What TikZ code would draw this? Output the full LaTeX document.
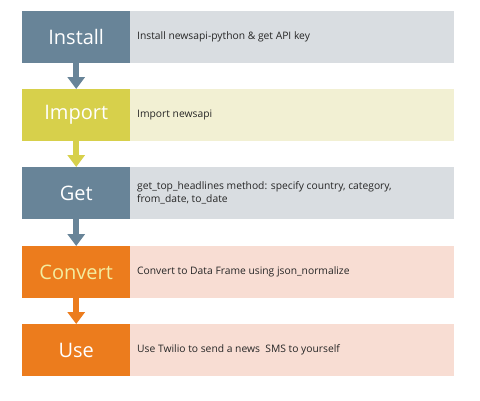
\documentclass[tikz,border=0pt]{standalone}
\usepackage{fontspec}
\setmainfont{Open Sans}
\usetikzlibrary{arrows.meta}
\definecolor{slate}{HTML}{688498}
\definecolor{olive}{HTML}{D7D04B}
\definecolor{orng}{HTML}{EC7C1D}
\definecolor{lgray}{HTML}{D9DDE1}
\definecolor{cream}{HTML}{F2F0D3}
\definecolor{peach}{HTML}{F8DDD3}
\definecolor{paleyel}{HTML}{F3EDA0}
\tikzset{
  x=1pt,y=-1pt,
  stepbox/.style={minimum width=108pt,minimum height=52pt,inner sep=0pt,anchor=north west,font=\fontsize{20}{22}\selectfont,text=white},
  descbox/.style={minimum width=324pt,minimum height=52pt,inner sep=0pt,anchor=north west},
  desctext/.style={anchor=west,inner sep=0pt,font=\fontsize{10.3}{12.5}\selectfont,align=left,text=black!85},
  flow/.style={line width=6pt,-{Triangle[width=17pt,length=12pt]}}
}
\begin{document}
\begin{tikzpicture}
\useasboundingbox (0,0) rectangle (480,400);
\node[descbox,fill=lgray] (d1) at (130,11) {};
\node[descbox,fill=cream] (d2) at (130,89) {};
\node[descbox,fill=lgray] (d3) at (130,167) {};
\node[descbox,fill=peach] (d4) at (130,246) {};
\node[descbox,fill=peach] (d5) at (130,324) {};
\node[stepbox,fill=slate] (s1) at (22,11) {Install};
\node[stepbox,fill=olive] (s2) at (22,89) {Import};
\node[stepbox,fill=slate] (s3) at (22,167) {Get};
\node[stepbox,fill=orng,text=paleyel] (s4) at (22,246) {Convert};
\node[stepbox,fill=orng] (s5) at (22,324) {Use};
\node[desctext] (t1) at (137,37) {Install newsapi-python \& get API key};
\node[desctext] (t2) at (137,115) {Import newsapi};
\node[desctext] (t3) at (137,193) {get\_top\_headlines method: specify country, category,\\from\_date, to\_date};
\node[desctext] (t4) at (137,272) {Convert to Data Frame using json\_normalize};
\node[desctext] (t5) at (137,350) {Use Twilio to send a news\ \ SMS to yourself};
\draw[flow,slate] (s1.south) -- (s2.north);
\draw[flow,olive] (s2.south) -- (s3.north);
\draw[flow,slate] (s3.south) -- (s4.north);
\draw[flow,orng] (s4.south) -- (s5.north);
\end{tikzpicture}
\end{document}
